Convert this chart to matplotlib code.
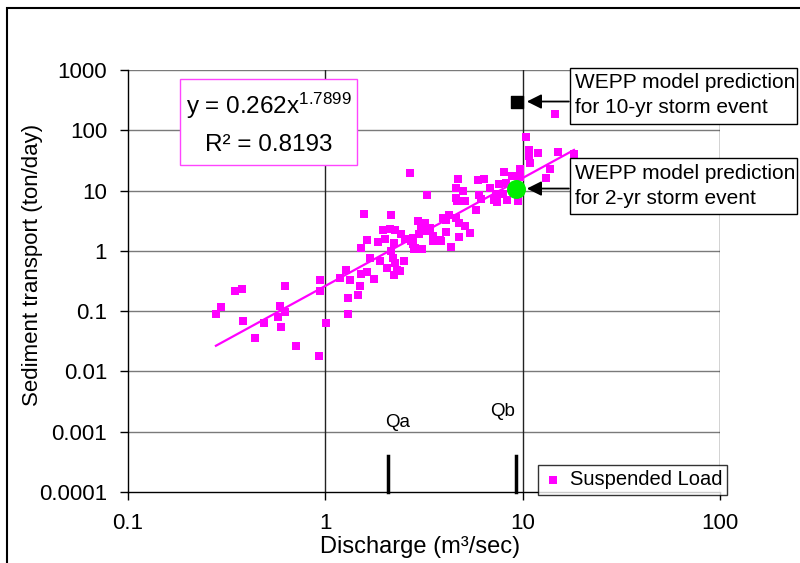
import matplotlib
matplotlib.use('Agg')
import matplotlib.pyplot as plt
from matplotlib.patches import Rectangle
from matplotlib.ticker import FixedLocator, FixedFormatter, NullLocator
import numpy as np

plt.rcParams['font.family'] = ['Liberation Sans', 'DejaVu Sans']
plt.rcParams['mathtext.fontset'] = 'custom'
plt.rcParams['mathtext.rm'] = 'Liberation Sans'
plt.rcParams['mathtext.it'] = 'Liberation Sans:italic'

# Observed suspended load (discharge m3/sec, transport ton/day)
discharge = [0.279, 0.296, 0.349, 0.379, 0.383, 0.440, 0.489, 0.587, 0.578, 0.622,
             0.595, 0.624, 0.714, 0.925, 0.936, 0.936, 1.01, 1.31, 1.31, 1.47,
             1.49, 1.19, 1.27, 1.34, 1.52, 1.63, 1.77, 1.51, 1.57, 1.62,
             1.69, 1.90, 1.84, 1.95, 2.01, 2.06, 2.13, 2.15, 2.15, 2.24,
             2.20, 2.25, 2.30, 2.39, 2.24, 2.41, 2.25, 2.49, 2.53, 2.68,
             2.71, 2.82, 2.94, 3.19, 3.07, 3.38, 2.97, 3.19, 2.79, 2.79,
             2.84, 3.10, 3.29, 3.51, 3.80, 3.51, 3.87, 4.09, 4.31, 3.94,
             4.10, 4.23, 4.61, 4.75, 5.13, 4.75, 5.44, 4.57, 4.64, 5.13,
             5.80, 4.61, 4.99, 4.68, 5.93, 6.40, 5.99, 6.18, 6.84, 7.33,
             7.18, 7.44, 7.62, 8.26, 7.91, 8.36, 9.42, 8.07, 8.88, 9.66,
             9.75, 10.4, 10.8, 10.8, 12.0, 10.9, 15.1, 18.2, 13.8, 13.2,
             14.6]
sediment = [0.0895, 0.118, 0.212, 0.235, 0.0694, 0.0353, 0.0635, 0.120, 0.0808, 0.0966,
            0.0545, 0.260, 0.0262, 0.0178, 0.327, 0.212, 0.0635, 0.0882, 0.165, 0.187,
            0.263, 0.357, 0.485, 0.331, 0.421, 0.444, 0.344, 1.11, 4.15, 1.50,
            0.757, 0.683, 1.41, 2.20, 1.56, 0.513, 2.31, 3.95, 1.00, 1.33,
            0.766, 0.640, 0.490, 0.467, 0.401, 1.91, 2.20, 0.683, 1.55, 19.3,
            1.44, 1.06, 3.08, 2.94, 2.38, 2.38, 1.93, 2.14, 1.62, 1.29,
            1.12, 1.06, 8.45, 1.77, 1.50, 1.46, 1.43, 2.05, 1.14, 3.48,
            3.26, 3.95, 3.56, 2.87, 2.56, 1.71, 1.99, 7.40, 6.73, 6.65,
            4.83, 11.0, 9.85, 15.3, 14.7, 15.3, 8.45, 7.26, 11.0, 8.89,
            6.86, 6.35, 12.7, 13.6, 8.61, 6.99, 6.60, 20.6, 17.5, 22.4,
            16.6, 77.2, 47.9, 37.4, 42.4, 29.0, 44.4, 41.1, 22.5, 16.0,
            183.0]

# power trend  y = a x^b
trend_a = 0.262
trend_b = 1.7899
r_squared = 0.8193

# WEPP predictions
wepp_10yr = (9.4, 300.0)
wepp_2yr = (9.3, 10.8)

# characteristic discharges
q_labels = ['Qa', 'Qb']
q_values = [2.08, 9.3]

x_ticks = [0.1, 1, 10, 100]
x_ticklabels = ['0.1', '1', '10', '100']
y_ticks = [0.0001, 0.001, 0.01, 0.1, 1, 10, 100, 1000]
y_ticklabels = ['0.0001', '0.001', '0.01', '0.1', '1', '10', '100', '1000']

W, H = 800, 563
fig = plt.figure(figsize=(W / 100, H / 100), dpi=100)
ax = fig.add_axes([128 / W, 1 - 492 / H, 592 / W, 422 / H])

ax.set_xscale('log')
ax.set_yscale('log')
ax.set_xlim(0.1, 100)
ax.set_ylim(0.0001, 1000)

# grid
for yv in y_ticks[1:]:
    ax.axhline(yv, color='#7a7a7a', lw=1, zorder=1)
for xv in x_ticks[1:]:
    ax.axvline(xv, color='#222222', lw=1, zorder=1)

ax.scatter(discharge, sediment, marker='s', s=40, color='#ff00ff', linewidths=0,
           zorder=3, label='Suspended Load')

xs = np.linspace(min(discharge), max(discharge), 100)
ax.plot(xs, trend_a * xs ** trend_b, color='#ff00ff', lw=1.6, zorder=4)

ax.scatter([wepp_10yr[0]], [wepp_10yr[1]], marker='s', s=85, color='black', zorder=5)
ax.scatter([wepp_2yr[0]], [wepp_2yr[1]], marker='o', s=160, color='#00ee00', zorder=5)

# Qa / Qb markers
for lab, q in zip(q_labels, q_values):
    ax.plot([q, q], [0.0001, 0.0004], color='black', lw=2.5, zorder=4, clip_on=False)
ax.text(q_values[0] * 1.12, 0.0014, q_labels[0], fontsize=13.5, ha='center', va='center')
ax.text(q_values[1] * 0.85, 0.00215, q_labels[1], fontsize=13.5, ha='center', va='center')

# axes styling
for s in ['top', 'right']:
    ax.spines[s].set_visible(False)
ax.spines['left'].set_linewidth(1)
ax.spines['bottom'].set_linewidth(1)
ax.xaxis.set_major_locator(FixedLocator(x_ticks))
ax.xaxis.set_major_formatter(FixedFormatter(x_ticklabels))
ax.yaxis.set_major_locator(FixedLocator(y_ticks))
ax.yaxis.set_major_formatter(FixedFormatter(y_ticklabels))
ax.xaxis.set_minor_locator(NullLocator())
ax.yaxis.set_minor_locator(NullLocator())
ax.tick_params(axis='both', direction='out', length=6, width=1, labelsize=16)
ax.tick_params(axis='x', pad=9)
ax.tick_params(axis='y', pad=9)

ax.set_xlabel('Discharge (m³/sec)', fontsize=17)
ax.set_ylabel('Sediment transport (ton/day)', fontsize=16)
ax.xaxis.set_label_coords(0.493, -0.104)
ax.yaxis.set_label_coords(-0.143, 0.538)

# equation box
def px(x, y):
    return x / W, 1 - y / H

fig.patches.append(Rectangle(px(180, 165), 177 / W, 86 / H, transform=fig.transFigure,
                             facecolor='white', edgecolor='#ff44ff', lw=1, zorder=6))
fig.text(*px(269, 106), 'y = 0.262x$^{\\mathrm{%s}}$' % trend_b, fontsize=17.5,
         ha='center', va='center', zorder=7)
fig.text(*px(269, 145), 'R² = %s' % r_squared, fontsize=17.5, ha='center', va='center', zorder=7)

# WEPP boxes
for top, lines in [(68, ['WEPP model prediction', 'for 10-yr storm event']),
                   (158, ['WEPP model prediction', 'for 2-yr storm event'])]:
    fig.patches.append(Rectangle(px(570, top + 56), 227 / W, 56 / H, transform=fig.transFigure,
                                 facecolor='white', edgecolor='black', lw=1, zorder=6))
    fig.text(*px(575, top + 15), lines[0], fontsize=15, ha='left', va='center', zorder=7)
    fig.text(*px(575, top + 40), lines[1], fontsize=15, ha='left', va='center', zorder=7)

box_edge_x = 10 ** ((570 - 325) / 198.5)
for pt in [wepp_10yr, wepp_2yr]:
    ax.annotate('', xy=(10.5, pt[1]), xytext=(box_edge_x, pt[1]), textcoords='data',
                annotation_clip=False,
                arrowprops=dict(arrowstyle='-|>', color='black', lw=1.3,
                                mutation_scale=22, shrinkA=0, shrinkB=0), zorder=8)

leg = ax.legend(loc='lower right', bbox_to_anchor=(1.012, -0.006), fontsize=14.5,
                frameon=True, fancybox=False, edgecolor='black', markerscale=0.8,
                handletextpad=0.3, borderpad=0.25, handlelength=1.0, borderaxespad=0)
leg.get_frame().set_linewidth(1)
leg.set_zorder(9)

# outer chart border
fig.patches.append(Rectangle(px(7, 600), 820 / W, 592 / H, transform=fig.transFigure,
                             fill=False, edgecolor='black', lw=1.5))

fig.savefig('out.png', dpi=100)
